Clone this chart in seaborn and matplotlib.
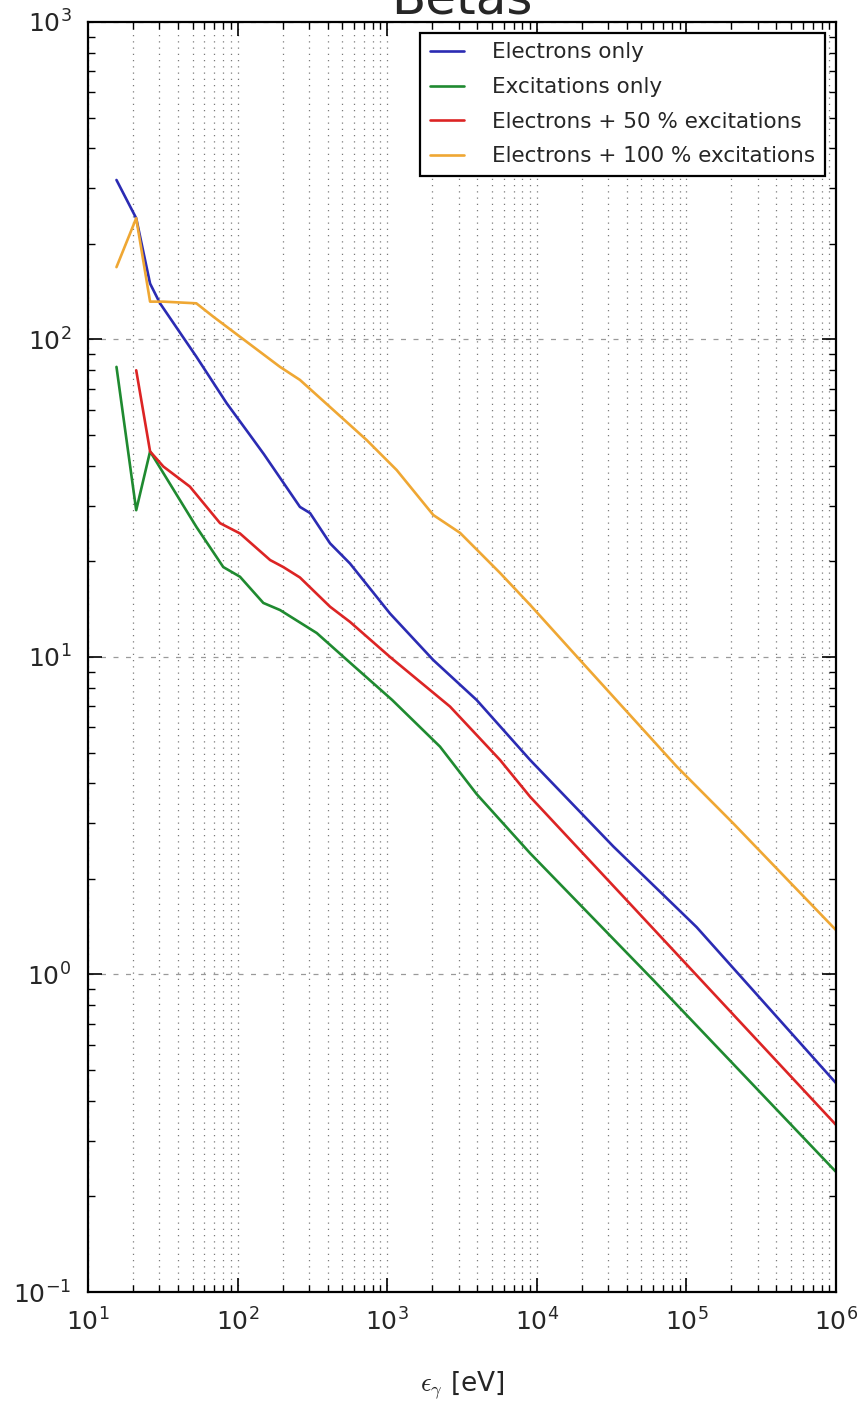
import numpy as np
import pandas as pd
import matplotlib
matplotlib.use("Agg")
import matplotlib.pyplot as plt
import seaborn as sns
from matplotlib.ticker import LogLocator, NullFormatter

# ---- data (energy in eV, beta) ----
series_names = ["Electrons only", "Excitations only",
                "Electrons + 50 % excitations", "Electrons + 100 % excitations"]

electrons_x = [15.5, 21, 26, 30.3, 53, 84.5, 121, 150, 261, 305, 415, 564,
               1045, 2033, 3963, 9015, 32500, 117000, 1e6]
electrons_y = [318, 241, 150, 130, 88.3, 63, 50, 43.5, 29.7, 28.4, 22.8, 19.7,
               13.7, 9.78, 7.32, 4.74, 2.53, 1.41, 0.455]

excitations_x = [15.5, 21, 26, 53, 80.2, 103.7, 148.6, 192, 338, 564, 1080,
                 2254, 3963, 9015, 60100, 1e6]
excitations_y = [82, 29, 44.4, 25.7, 19.2, 17.9, 14.8, 14.06, 11.9, 9.6, 7.32,
                 5.22, 3.7, 2.41, 0.96, 0.239]

half_x = [21, 26, 31.9, 48, 76.3, 103.7, 165, 202, 261, 415, 564, 1045, 2630,
          5676, 9015, 42000, 1e6]
half_y = [80, 44.4, 39.8, 34.4, 26.4, 24.5, 20.2, 19.2, 17.8, 14.4, 12.9, 10,
          6.98, 4.74, 3.63, 1.67, 0.336]

full_x = [15.5, 21, 26, 31.9, 53, 68.8, 192, 261, 436, 730, 1157, 2033, 3070,
          5676, 9015, 19450, 86100, 206000, 1e6]
full_y = [169, 241, 131.6, 131.6, 130, 118, 82, 74.6, 60, 48.2, 38.8, 28, 24.6,
          18.4, 14.6, 9.78, 4.52, 2.99, 1.38]

colors = ["#2b2bb3", "#1f8a30", "#dc2424", "#efa733"]

frames = []
for name, xs, ys in zip(series_names,
                        [electrons_x, excitations_x, half_x, full_x],
                        [electrons_y, excitations_y, half_y, full_y]):
    frames.append(pd.DataFrame({"energy": xs, "beta": ys, "series": name}))
df = pd.concat(frames, ignore_index=True)

sns.set_style("white")
plt.rcParams["font.family"] = ["DejaVu Sans"]

fig = plt.figure(figsize=(8.64, 14.15), dpi=100)
ax = fig.add_axes([88 / 864, 1 - 1292 / 1415, (836 - 88) / 864, (1292 - 22) / 1415])

sns.lineplot(data=df, x="energy", y="beta", hue="series", hue_order=series_names,
             palette=colors, estimator=None, sort=False, linewidth=1.9, ax=ax)

ax.set_xscale("log")
ax.set_yscale("log")
ax.set_xlim(10, 1e6)
ax.set_ylim(0.1, 1000)

ax.xaxis.set_major_locator(LogLocator(base=10, numticks=20))
ax.xaxis.set_minor_locator(LogLocator(base=10, subs=np.arange(2, 10), numticks=50))
ax.yaxis.set_major_locator(LogLocator(base=10, numticks=20))
ax.yaxis.set_minor_locator(LogLocator(base=10, subs=np.arange(2, 10), numticks=50))
ax.xaxis.set_minor_formatter(NullFormatter())
ax.yaxis.set_minor_formatter(NullFormatter())

ax.tick_params(which="both", direction="in", top=True, right=True,
               bottom=True, left=True, color="black")
ax.tick_params(which="major", length=10, width=1.2, labelsize=18, pad=12)
ax.tick_params(which="minor", length=5, width=1.0)

ax.grid(which="both", axis="x", linestyle=(0, (1, 4)), color="#7a7a7a", linewidth=0.9)
ax.grid(which="major", axis="y", linestyle=(0, (4, 6)), color="#9a9a9a", linewidth=0.9)
ax.set_axisbelow(True)

for sp in ax.spines.values():
    sp.set_color("black")
    sp.set_linewidth(1.6)

ax.set_xlabel(r"$\epsilon_\gamma$ [eV]", fontsize=19, labelpad=24,
              math_fontfamily="cm")
ax.set_ylabel("")

handles, labels = ax.get_legend_handles_labels()
leg = ax.legend(handles, labels, loc="upper right", fontsize=15.5,
                frameon=True, fancybox=False, framealpha=1, edgecolor="black",
                handlelength=1.6, handletextpad=1.3, labelspacing=0.68,
                borderpad=0.45, borderaxespad=0.5)
leg.get_frame().set_linewidth(1.6)
for line in leg.get_lines():
    line.set_linewidth(1.9)

fig.text(462 / 864, 1 - 14 / 1415, "Betas", ha="center", va="baseline", fontsize=36)

fig.savefig("out.png", dpi=100)
